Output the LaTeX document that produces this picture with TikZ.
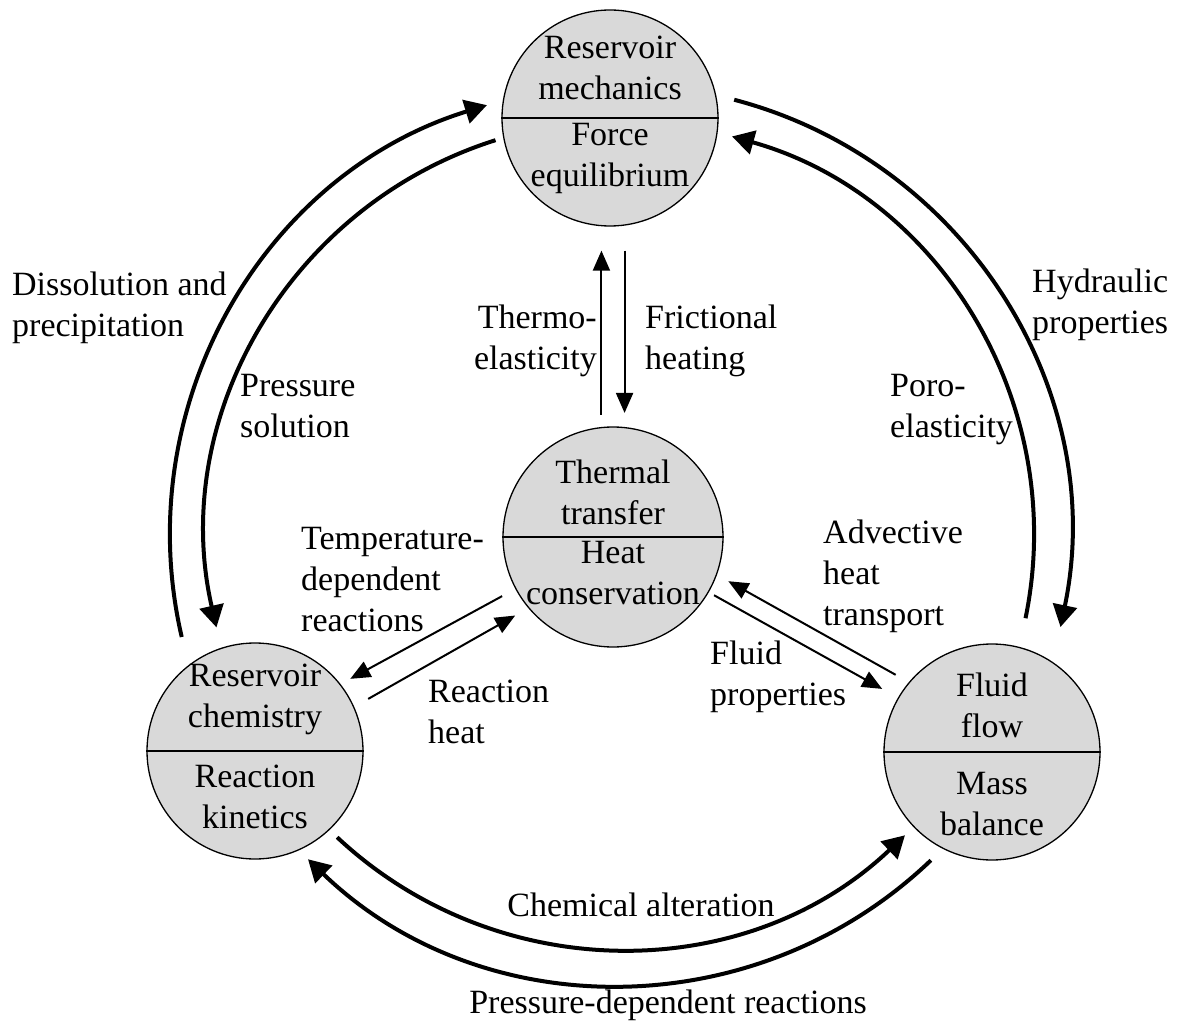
\documentclass[tikz,border=0pt]{standalone}
\usepackage{fontspec}
\setmainfont{Liberation Serif}
\usetikzlibrary{arrows.meta,calc}

\begin{document}
\begin{tikzpicture}[x=1pt, y=-1pt,
    every node/.style={font=\fontsize{34}{41}\selectfont, inner sep=0pt},
    unit/.style={circle, draw, line width=1.3pt, fill=black!15, minimum size=216pt},
    ringarrow/.style={line width=4pt, -{Triangle[length=22pt, width=24pt]}},
    linkarrow/.style={line width=2pt, -{Triangle[length=20pt, width=17pt]}},
    lbl/.style={align=left, anchor=north west}]
	\useasboundingbox (0,0) rectangle (1179,1027);

	% --- Deelprocessen (cirkels) ---
	\node[unit] (mech) at (610,118) {};
	\node[unit, minimum size=220pt] (therm) at (613,537) {};
	\node[unit] (chem) at (255,751) {};
	\node[unit] (fluid) at (992,752) {};
	\coordinate (ring) at (620,535);

	% Scheidingslijn in elke cirkel
	\foreach \n in {mech,therm,chem,fluid}
		\draw[line width=2.4pt] (\n.west) -- (\n.east);

	\node[align=center] (mechtop) at ($(mech)+(0,-50)$) {Reservoir\\mechanics};
	\node[align=center] (mechbot) at ($(mech)+(0,40)$) {Force\\equilibrium};
	\node[align=center] (thermtop) at ($(therm)+(0,-45)$) {Thermal\\transfer};
	\node[align=center] (thermbot) at ($(therm)+(0,36)$) {Heat\\conservation};
	\node[align=center] (chemtop) at ($(chem)+(0,-52)$) {Reservoir\\chemistry};
	\node[align=center] (chembot) at ($(chem)+(0,46)$) {Reaction\\kinetics};
	\node[align=center] (fluidtop) at ($(fluid)+(0,-47)$) {Fluid\\flow};
	\node[align=center] (fluidbot) at ($(fluid)+(0,52)$) {Mass\\balance};

	% --- Buitenste bogen ---
	% Formaat: beginhoek / eindhoek / straal
	\foreach \a/\b/\r in {166.9/252.8/450, 252.5/167.1/414, -75.3/11.8/450,
			11.6/-74.3/414, 133.1/46.5/414, 46.3/133.9/450} {
			\draw[ringarrow] (ring) ++(\a:\r) arc[start angle=\a, end angle=\b, radius=\r];
		}

	% --- Rechte pijlen naar en van de warmte ---
	\draw[linkarrow, shorten <=12pt, shorten >=24pt] (therm.96) -- (therm.96 |- mech.south);
	\draw[linkarrow, shorten <=24pt, shorten >=14pt] (mech.south -| therm.84) -- (therm.84);
	\draw[linkarrow, shorten <=15pt, shorten >=11pt] (therm.208) -- (chem.38);
	\draw[linkarrow, shorten <=16pt, shorten >=15pt] (chem.24) -- (therm.220);
	\draw[linkarrow, shorten <=6pt, shorten >=18pt] (therm.330) -- (fluid.150);
	\draw[linkarrow, shorten <=15pt, shorten >=13pt] (fluid.140) -- (therm.340);

	% --- Labels ---
	\node[lbl] (dissol) at (12,272) {Dissolution and\\precipitation};
	\node[lbl] (psol) at (240,374) {Pressure\\solution};
	\node[lbl] (hydr) at (1032,269) {Hydraulic\\properties};
	\node[lbl] (poro) at (890,374) {Poro-\\elasticity};
	\node[align=right, anchor=north east] (thermo) at (597,305) {Thermo-\\elasticity};
	\node[lbl] (fric) at (645,305) {Frictional\\heating};
	\node[lbl] (tdep) at (301,527) {Temperature-\\dependent\\reactions};
	\node[lbl] (rheat) at (428,680) {Reaction\\heat};
	\node[lbl] (adv) at (823,520) {Advective\\heat\\transport};
	\node[lbl] (fprop) at (710,641) {Fluid\\properties};
	\node (chalt) at (641,905) {Chemical alteration};
	\node (pdep) at (668,1005) {Pressure-dependent reactions};

\end{tikzpicture}
\end{document}
